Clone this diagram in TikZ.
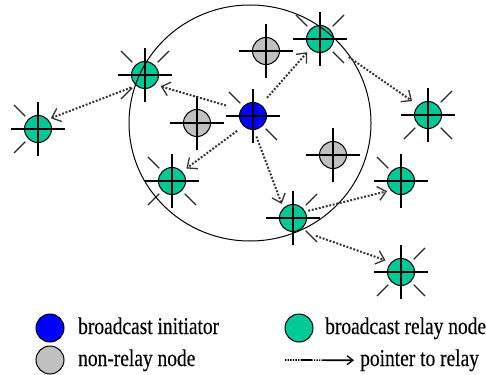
\documentclass[tikz,border=0pt]{standalone}
\usepackage{fontspec}
\setmainfont{Liberation Serif}
\newfontfamily\tms[FakeStretch=0.81,FakeBold=0.3]{Liberation Serif}
\usetikzlibrary{calc,arrows.meta}
\definecolor{relaycol}{RGB}{0,200,150}
\definecolor{initcol}{RGB}{0,0,255}
\definecolor{noncol}{RGB}{192,192,192}
\begin{document}
\begin{tikzpicture}[x=1pt,y=-1pt,
  nd/.style={circle,draw=black,line width=1pt,minimum size=27pt,inner sep=0pt,outer sep=0pt},
  rel/.style={nd,fill=relaycol}, ini/.style={nd,fill=initcol}, non/.style={nd,fill=noncol},
  lnd/.style={minimum size=28pt},
  cross/.style={line width=1.2pt,black},
  ray/.style={line width=1.1pt,black!85},
  ptr/.style={line width=2pt,black!80,dash pattern=on 1.9pt off 1.7pt,
    -{Straight Barb[length=8pt,width=14pt,line width=1.3pt]}},
  legptr/.style={line width=1.7pt,black,
    dash pattern=on 1.4pt off 1.2pt on 1.4pt off 1.2pt on 1.4pt off 1.2pt on 1.4pt off 1.2pt on 1.4pt off 1.2pt on 1.4pt off 1.2pt on 12pt off 1.2pt on 1.4pt off 1.2pt on 1.4pt off 1.2pt on 1.4pt off 1.2pt on 30pt,
    -{Straight Barb[length=6pt,width=9pt,line width=1.3pt]}},
  lbl/.style={font=\tms\fontsize{24}{26}\selectfont,anchor=base west,inner sep=0pt}
]
\useasboundingbox (0,0) rectangle (486,374);

% nodes
\node[ini] (b) at (253,116) {};
\node[non] (n1) at (266,51) {};
\node[non] (n2) at (197,123) {};
\node[non] (n3) at (333,155) {};
\node[rel] (r1) at (145,75) {};
\node[rel] (r2) at (320,39) {};
\node[rel] (r3) at (172,181) {};
\node[rel] (r4) at (293,218) {};
\node[rel] (r5) at (38,129) {};
\node[rel] (r6) at (428,115) {};
\node[rel] (r7) at (401,181) {};
\node[rel] (r8) at (401,272) {};

% crosshairs
\foreach \n in {b,n1,n2,n3,r1,r2,r3,r4,r5,r6,r7,r8} {
  \draw[cross] ($(\n)+(-27pt,0pt)$) -- ($(\n)+(27pt,0pt)$);
  \draw[cross] ($(\n)+(0pt,-27pt)$) -- ($(\n)+(0pt,27pt)$);
}

% rays
\foreach \n/\a in {b/135,b/315, r1/45,r1/135,r1/225, r2/45,r2/135,r2/315,
  r3/135,r3/225,r3/315, r4/45,r4/315, r5/135,r5/225, r6/45,r6/225,r6/315,
  r7/135, r8/45,r8/225,r8/315}
  \draw[ray] ($(\n)+(\a:18pt)$) -- ($(\n)+(\a:34pt)$);

% range circle
\draw[line width=1pt] (250,123) ellipse [x radius=121, y radius=118];

% pointers
\draw[ptr, shorten <=15.6pt, shorten >=6.3pt] (b.153) -- (r1.-45);
\draw[ptr, shorten <=9.5pt, shorten >=4.9pt] (b.55.6) -- (r2.-135);
\draw[ptr, shorten <=8.4pt, shorten >=5.6pt] (b.-133) -- (r3.43);
\draw[ptr, shorten <=7.5pt, shorten >=4.9pt] (b.-87) -- (r4.135);
\draw[ptr, shorten <=5.7pt, shorten >=3.5pt] (r1.-129) -- (r5.45);
\draw[ptr, shorten <=20.5pt, shorten >=7.7pt] (r2.-28) -- (r6.135);
\draw[ptr, shorten <=3.5pt, shorten >=4.2pt] (r4.28) -- (r7.-137);
\draw[ptr, shorten <=17.8pt, shorten >=6.3pt] (r4.-63) -- (r8.135);

% legend
\node[ini,lnd] (lb) at (50,328) {};
\node[non,lnd] (lg) at (50,360) {};
\node[rel,lnd] (lr) at (299,328) {};
\node[lbl] (t1) at (78,334) {broadcast initiator};
\node[lbl] (t2) at (78,366) {non-relay node};
\node[lbl] (t3) at (325,334) {broadcast relay node};
\node[lbl] (t4) at (360,366) {pointer to relay};
\coordinate (la) at (285,360);
\draw[legptr, shorten >=6pt] (la) -- (t4.west);
\end{tikzpicture}
\end{document}
